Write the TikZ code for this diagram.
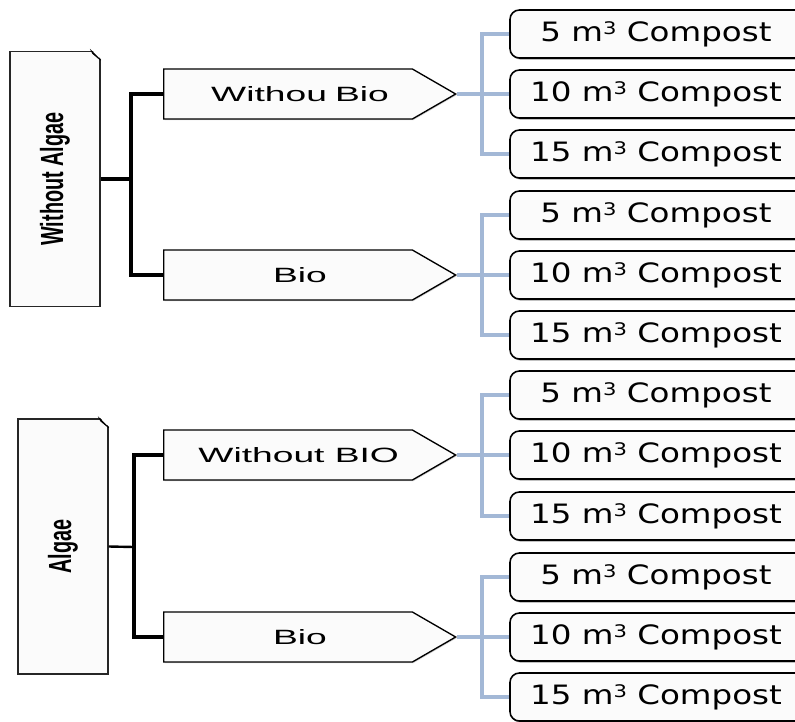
\documentclass[tikz,border=0pt]{standalone}
\usepackage{fontspec}
\usetikzlibrary{shapes.symbols,shadows}

\newfontfamily\compfont[FakeStretch=1.22]{DejaVu Sans}
\newfontfamily\arrfont[FakeStretch=1.8]{Liberation Sans}
\newfontfamily\sidefont[FakeStretch=0.62]{Liberation Sans}
\definecolor{linkblue}{RGB}{163,184,214}

\tikzset{
  sidebox/.style={draw=black!85, line width=1.1pt, fill=gray!3, inner sep=0pt,
    minimum width=67.5pt, minimum height=191pt,
    font=\sidefont\bfseries\fontsize{24}{27}\selectfont},
  arrowbox/.style={shape=signal, signal to=east, signal pointer angle=60,
    draw, line width=1pt, fill=gray!3, inner sep=0pt, anchor=west,
    minimum width=219pt, minimum height=37.5pt,
    drop shadow={shadow xshift=0.8pt, shadow yshift=-0.8pt, fill=gray!70},
    font=\arrfont\fontsize{15.5}{18}\selectfont},
  compost/.style={draw, line width=1.2pt, rounded corners=7pt, fill=gray!3,
    inner sep=0pt, minimum width=240pt, minimum height=36pt,
    drop shadow={shadow xshift=1pt, shadow yshift=-1.2pt, fill=black!75},
    font=\compfont\fontsize{20}{23}\selectfont},
  trunk/.style={line width=3.6pt},
  thinlink/.style={line width=1.8pt},
  branch/.style={draw=linkblue, line width=3pt}
}
\newcommand{\cubed}{m\raisebox{0.45ex}{\fontsize{13}{13}\selectfont 3}}
\newcommand{\comp}[1]{#1 \cubed\ Compost\hspace*{21pt}}

\begin{document}
\begin{tikzpicture}[x=0.75pt, y=-0.75pt]
\useasboundingbox (0,0) rectangle (795,721);
\clip (0,0) rectangle (795,721);

% left side
\node[sidebox] (noalgae) at (55,179) {\rotatebox{90}{Without Algae}};
\node[sidebox] (algae) at (63,546.5) {\rotatebox{90}{Algae}};
\foreach \b in {noalgae,algae}{
  \fill[white] ([xshift=-7pt,yshift=1pt]\b.north east) -- ([xshift=1pt,yshift=1pt]\b.north east)
    -- ([xshift=1pt,yshift=-7pt]\b.north east) -- cycle;
  \draw[line width=0.6pt, fill=gray!45] ([xshift=-7pt]\b.north east) -- ([yshift=-7pt]\b.north east)
    -- ([xshift=-6pt,yshift=-2pt]\b.north east) -- cycle;
}

% middle level
\node[arrowbox] (nobio1) at (163,94) {\hspace*{18pt}Withou\hspace{6pt}Bio};
\node[arrowbox] (bio1) at (163,275) {\hspace*{18pt}Bio};
\node[arrowbox] (nobio2) at (163,455) {\hspace*{16pt}Without BIO};
\node[arrowbox] (bio2) at (163,637) {\hspace*{18pt}Bio};

% compost boxes
\node[compost] (c1) at (670,34) {\comp{5}};
\node[compost] (c2) at (670,94) {\comp{10}};
\node[compost] (c3) at (670,154) {\comp{15}};
\node[compost] (c4) at (670,215) {\comp{5}};
\node[compost] (c5) at (670,275) {\comp{10}};
\node[compost] (c6) at (670,335) {\comp{15}};
\node[compost] (c7) at (670,395) {\comp{5}};
\node[compost] (c8) at (670,455) {\comp{10}};
\node[compost] (c9) at (670,516) {\comp{15}};
\node[compost] (c10) at (670,577) {\comp{5}};
\node[compost] (c11) at (670,637) {\comp{10}};
\node[compost] (c12) at (670,697) {\comp{15}};

% black links
\coordinate (j1) at (131,179);
\coordinate (j2) at (134,547);
\draw[trunk] (noalgae.east) -- (j1);
\draw[trunk] (nobio1.west) -| (j1) |- (bio1.west);
\draw[thinlink] (algae.east) -- (j2);
\draw[trunk] (nobio2.west) -| (j2) |- (bio2.west);

% blue links
\coordinate (k1) at (482,94);
\coordinate (k2) at (482,275);
\coordinate (k3) at (482,455);
\coordinate (k4) at (482,637);
\draw[branch] (nobio1.east) -- (k1) -- (c2.west);
\draw[branch] (c1.west) -| (k1) |- (c3.west);
\draw[branch] (bio1.east) -- (k2) -- (c5.west);
\draw[branch] (c4.west) -| (k2) |- (c6.west);
\draw[branch] (nobio2.east) -- (k3) -- (c8.west);
\draw[branch] (c7.west) -| (k3) |- (c9.west);
\draw[branch] (bio2.east) -- (k4) -- (c11.west);
\draw[branch] (c10.west) -| (k4) |- (c12.west);
\end{tikzpicture}
\end{document}
